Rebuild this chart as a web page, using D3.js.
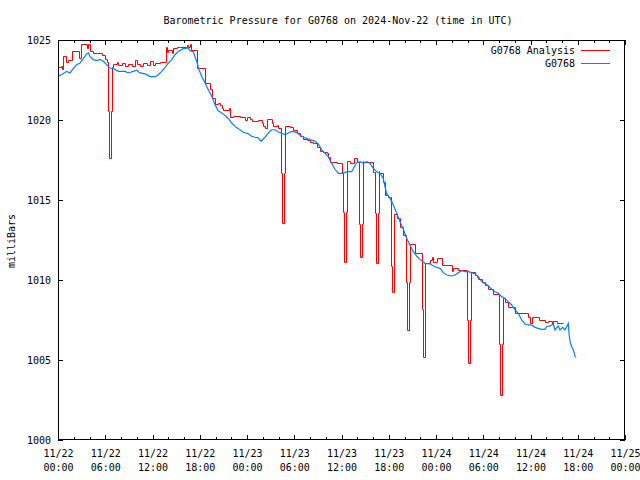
<!DOCTYPE html>
<html>
<head>
<meta charset="utf-8">
<script src="https://cdn.jsdelivr.net/npm/d3@7"></script>
<style>
  html, body { margin: 0; padding: 0; background: #fff; }
  svg { display: block; }
  text { font-family: "DejaVu Sans Mono", monospace; font-size: 10px; fill: #000; }
</style>
</head>
<body>
<svg id="chart" width="640" height="480"></svg>
<script>
// ---- data (hours after 2024-11-22 00:00 UTC, pressure in millibars) ----
const titleText = "Barometric Pressure for G0768 on 2024-Nov-22 (time in UTC)";
const yLabel = "milliBars";
const seriesNames = ["G0768 Analysis", "G0768"];
const yTicks = [1000, 1005, 1010, 1015, 1020, 1025];
const majorTickHours = [0, 6, 12, 18, 24, 30, 36, 42, 48, 54, 60, 66, 72];

const stationHours = [0, 0.57, 1.1, 1.52, 1.94, 2.37, 2.79, 3.21, 3.64, 3.85, 4.06, 4.48, 4.91, 5.33, 5.75, 6.18, 6.6, 7.02, 7.66, 8.51, 8.93, 9.56, 9.99, 10.41, 11.05, 11.68, 12.32, 12.74, 13.17, 13.59, 14.01, 14.44, 14.86, 15.28, 15.91, 16.55, 16.76, 17.18, 17.61, 17.9, 18.25, 18.67, 19.09, 19.52, 19.94, 20.36, 20.79, 21.21, 21.63, 22.06, 22.48, 22.9, 23.53, 24.17, 24.59, 25.02, 25.44, 25.78, 26.29, 26.71, 27.13, 27.55, 27.97, 28.4, 28.83, 29.25, 29.67, 30.31, 30.73, 31.37, 32.0, 32.63, 33.05, 33.49, 33.9, 34.32, 34.75, 35.17, 35.6, 36.02, 36.44, 36.86, 37.29, 37.63, 37.93, 38.35, 38.77, 39.2, 39.62, 40.04, 40.47, 40.89, 41.31, 41.52, 41.74, 42.16, 42.58, 43.01, 43.43, 43.85, 44.28, 44.7, 45.12, 45.55, 45.97, 46.6, 47.24, 47.87, 48.51, 48.93, 49.36, 49.99, 50.41, 50.83, 51.26, 51.68, 52.1, 52.53, 52.95, 53.37, 53.8, 54.22, 54.64, 55.07, 55.49, 55.91, 56.34, 56.76, 57.18, 57.61, 58.03, 58.45, 58.88, 59.3, 59.72, 60.15, 60.57, 60.99, 61.42, 61.84, 62.05, 62.48, 62.9, 63.11, 63.53, 63.75, 64.09, 64.38, 64.8, 64.89, 65.02, 65.23, 65.44, 65.65, 65.78];
const stationPressure = [1022.73, 1022.88, 1023.04, 1022.94, 1023.21, 1023.46, 1023.56, 1023.83, 1024.13, 1024.19, 1023.98, 1023.77, 1023.71, 1023.78, 1023.67, 1023.46, 1023.25, 1023.21, 1023.04, 1023.04, 1022.94, 1023.04, 1023.11, 1022.94, 1022.88, 1022.73, 1022.69, 1022.83, 1023.04, 1023.29, 1023.56, 1023.77, 1024.08, 1024.29, 1024.46, 1024.5, 1024.33, 1024.25, 1023.67, 1023.14, 1022.73, 1022.31, 1021.89, 1021.48, 1020.96, 1020.58, 1020.44, 1020.29, 1020.08, 1019.81, 1019.6, 1019.46, 1019.23, 1019.14, 1018.98, 1018.92, 1018.88, 1018.67, 1018.92, 1019.19, 1019.39, 1019.39, 1019.25, 1019.19, 1019.08, 1019.19, 1019.29, 1019.23, 1019.04, 1018.88, 1018.77, 1018.67, 1018.5, 1018.13, 1017.92, 1017.71, 1017.29, 1016.92, 1016.67, 1016.67, 1016.73, 1016.77, 1016.77, 1017.08, 1017.33, 1017.4, 1017.29, 1017.4, 1017.29, 1016.98, 1016.77, 1016.67, 1016.35, 1015.83, 1015.38, 1015.1, 1014.69, 1014.17, 1013.64, 1013.17, 1012.6, 1012.19, 1011.77, 1011.5, 1011.29, 1011.04, 1011.0, 1010.83, 1010.73, 1010.46, 1010.31, 1010.25, 1010.31, 1010.46, 1010.58, 1010.52, 1010.52, 1010.46, 1010.38, 1010.21, 1009.9, 1009.79, 1009.63, 1009.42, 1009.27, 1009.17, 1008.96, 1008.85, 1008.65, 1008.44, 1008.13, 1007.92, 1007.5, 1007.25, 1007.19, 1007.19, 1007.04, 1006.98, 1006.92, 1006.92, 1007.08, 1007.13, 1007.25, 1006.88, 1007.13, 1006.88, 1007.04, 1006.88, 1007.29, 1006.67, 1006.15, 1005.83, 1005.63, 1005.25, 1005.17];

const analysisHours = [0, 0.38, 0.51, 0.67, 1.02, 1.31, 1.74, 2.70, 2.88, 3.64, 3.85, 4.06, 4.41, 4.91, 5.55, 5.97, 6.18,
  6.39, 6.52, 6.77,
  6.90, 7.02, 7.45, 7.66, 8.09, 8.51, 8.93, 9.36, 9.78, 9.99, 10.41, 10.83, 11.26, 11.68, 12.10, 12.32, 12.95, 13.71, 13.90, 14.01, 14.44, 14.64, 15.07, 15.49, 16.34, 16.51, 16.76, 16.89, 17.59, 17.71, 18.67, 19.30, 19.59, 19.94, 20.36, 20.57, 20.79, 21.00, 21.75, 21.84, 22.26, 23.11, 23.75, 23.96, 24.38, 24.60, 25.44, 25.87, 26.07, 26.29, 26.58, 27.14, 27.34, 27.77, 27.97,
  28.28, 28.41, 28.66,
  28.79, 29.46, 29.88, 30.31, 30.73, 31.15, 31.58, 32.00, 32.42, 32.85, 33.27, 33.69, 34.12, 34.32, 34.54, 35.39, 36.02,
  36.23, 36.36, 36.61,
  36.74, 37.08, 37.63, 37.93,
  38.26, 38.39, 38.64,
  38.72, 38.77, 40.04,
  40.25, 40.38, 40.63,
  40.72, 40.80, 41.31, 41.52, 41.87,
  42.24, 42.37, 42.62,
  42.72, 43.01, 43.43, 43.85,
  44.22, 44.35, 44.60,
  44.70, 45.33,
  46.18, 46.31, 46.56,
  46.66, 47.24, 47.45, 47.66, 48.08, 48.80, 49.99, 50.20, 50.83,
  51.94, 52.07, 52.32,
  52.45, 52.95, 53.17, 53.37, 53.80, 54.22, 54.64, 55.28,
  55.96, 56.09, 56.34,
  56.45, 56.76, 57.18, 57.61, 58.03, 58.88, 59.72, 59.97, 60.15, 61.12, 61.84, 62.26, 62.69, 62.90, 63.33, 64.09];
const analysisPressure = [1023.31, 1023.38, 1023.19, 1024.00, 1023.64, 1023.75, 1024.31, 1023.86, 1024.75, 1024.48, 1024.75, 1024.33, 1024.21, 1024.17, 1024.06, 1023.79, 1023.64,
  1020.56, 1017.65, 1020.56,
  1023.33, 1023.50, 1023.64, 1023.44, 1023.54, 1023.39, 1023.50, 1023.38, 1023.75, 1023.48, 1023.38, 1023.54, 1023.44, 1023.71, 1023.44, 1023.58, 1023.61, 1024.58, 1024.27, 1024.38, 1024.17, 1024.48, 1024.58, 1024.54, 1024.69, 1024.54, 1024.72, 1024.39, 1023.54, 1023.23, 1022.31, 1021.92, 1021.35, 1021.00, 1021.08, 1020.94, 1020.73, 1020.63, 1020.73, 1020.21, 1020.25, 1020.17, 1020.00, 1020.19, 1020.04, 1019.94, 1020.00, 1019.79, 1019.63, 1019.50, 1020.04, 1019.83, 1019.63, 1019.69, 1019.48,
  1016.67, 1013.58, 1016.67,
  1019.63, 1019.54, 1019.38, 1019.17, 1019.00, 1018.79, 1018.75, 1018.64, 1018.58, 1018.33, 1018.08, 1018.02, 1017.92, 1017.71, 1017.40, 1017.29, 1016.71,
  1014.27, 1011.15, 1014.27,
  1017.46, 1017.29, 1017.61, 1017.39,
  1013.50, 1011.46, 1013.50,
  1017.46, 1017.39, 1016.77,
  1014.20, 1011.08, 1014.20,
  1016.83, 1016.71, 1016.14, 1015.31, 1015.17,
  1010.90, 1009.27, 1010.90,
  1014.13, 1013.86, 1013.33, 1012.81,
  1009.90, 1006.88, 1009.90,
  1012.25, 1011.67,
  1008.20, 1005.20, 1008.20,
  1011.08, 1011.25, 1011.46, 1011.14, 1011.36, 1010.94, 1010.58, 1010.73, 1010.63,
  1007.50, 1004.80, 1007.50,
  1010.52, 1010.34, 1010.17, 1010.04, 1009.89, 1009.69, 1009.42, 1009.11,
  1006.00, 1002.80, 1006.00,
  1008.86, 1008.64, 1008.33, 1008.29, 1007.96, 1007.92, 1007.71, 1007.29, 1007.67, 1007.50, 1007.39, 1007.46, 1007.25, 1007.46, 1007.33, 1007.33];

// ---- chart ----
const START = Date.UTC(2024, 10, 22, 0, 0);
const toDate = h => new Date(START + h * 3600000);

const L = 58, R = 625, T = 40, B = 440;
const svg = d3.select("#chart");

const x = d3.scaleUtc().domain([toDate(0), toDate(72)]).range([L, R]);
const y = d3.scaleLinear().domain([1000, 1025]).range([B, T]);
const snap = v => Math.round(v) + 0.5;

const red = "#ff0000", blue = "#0080ff";

// title
svg.append("text").attr("x", 338).attr("y", 24).attr("text-anchor", "middle").text(titleText);
// y label
svg.append("text").attr("transform", "translate(15,241) rotate(-90)").attr("text-anchor", "middle").text(yLabel);

const majorDates = majorTickHours.map(toDate);
const minorDates = d3.range(0, 73, 2).filter(h => h % 6 !== 0).map(toDate);

function clean(g) {
  g.select(".domain").remove();
  g.selectAll("line").attr("stroke", "#000").attr("shape-rendering", "crispEdges");
  g.attr("font-family", null).attr("font-size", null);
}

// bottom major
const gb = svg.append("g").attr("transform", `translate(0,${B})`)
  .call(d3.axisBottom(x).tickValues(majorDates).tickSizeInner(-5).tickSizeOuter(0).tickFormat(() => ""));
clean(gb);
gb.selectAll(".tick text").remove();
const fmtD = d3.utcFormat("%m/%d"), fmtT = d3.utcFormat("%H:%M");
gb.selectAll(".tick").each(function(d) {
  const t = d3.select(this).append("text").attr("text-anchor", "middle");
  t.append("tspan").attr("x", 0).attr("y", 17).text(fmtD(d));
  t.append("tspan").attr("x", 0).attr("y", 31).text(fmtT(d));
});
// bottom minor
clean(svg.append("g").attr("transform", `translate(0,${B})`)
  .call(d3.axisBottom(x).tickValues(minorDates).tickSizeInner(-3).tickSizeOuter(0).tickFormat(() => "")));
// top major/minor
clean(svg.append("g").attr("transform", `translate(0,${T})`)
  .call(d3.axisTop(x).tickValues(majorDates).tickSizeInner(-5).tickSizeOuter(0).tickFormat(() => "")));
clean(svg.append("g").attr("transform", `translate(0,${T})`)
  .call(d3.axisTop(x).tickValues(minorDates).tickSizeInner(-3).tickSizeOuter(0).tickFormat(() => "")));
// left
const gl = svg.append("g").attr("transform", `translate(${L},0)`)
  .call(d3.axisLeft(y).tickValues(yTicks).tickSizeInner(-5).tickSizeOuter(0).tickPadding(7).tickFormat(d3.format("d")));
clean(gl);
gl.selectAll(".tick text").attr("dy", "0.35em");
// right
clean(svg.append("g").attr("transform", `translate(${R},0)`)
  .call(d3.axisRight(y).tickValues(yTicks).tickSizeInner(-5).tickSizeOuter(0).tickFormat(() => "")));

// clip
svg.append("clipPath").attr("id", "clip").append("rect").attr("x", L).attr("y", T).attr("width", R - L).attr("height", B - T);

const analysis = d3.zip(analysisHours, analysisPressure);
const station = d3.zip(stationHours, stationPressure);

const stepLine = d3.line().curve(d3.curveStepAfter)
  .x(d => snap(x(toDate(d[0])))).y(d => snap(y(d[1])));
const line = d3.line().x(d => x(toDate(d[0]))).y(d => y(d[1]));

const plot = svg.append("g").attr("clip-path", "url(#clip)");
plot.append("path").datum(analysis).attr("d", stepLine).attr("fill", "none")
  .attr("stroke", red).attr("stroke-width", 1);
plot.append("path").datum(station).attr("d", line).attr("fill", "none")
  .attr("stroke", blue).attr("stroke-width", 1.2);

// border
svg.append("rect").attr("x", L + 0.5).attr("y", T + 0.5).attr("width", R - L - 1).attr("height", B - T - 1)
  .attr("fill", "none").attr("stroke", "#000").attr("stroke-width", 1).attr("shape-rendering", "crispEdges");

// legend
const legend = svg.append("g");
[[seriesNames[0], red, 50], [seriesNames[1], blue, 63]].forEach(([name, col, ly]) => {
  legend.append("text").attr("x", 575).attr("y", ly).attr("dy", "0.35em").attr("text-anchor", "end").text(name);
  legend.append("line").attr("x1", 581).attr("x2", 610).attr("y1", ly + 0.5).attr("y2", ly + 0.5)
    .attr("stroke", col).attr("stroke-width", 1).attr("shape-rendering", "crispEdges");
});
</script>
</body>
</html>
